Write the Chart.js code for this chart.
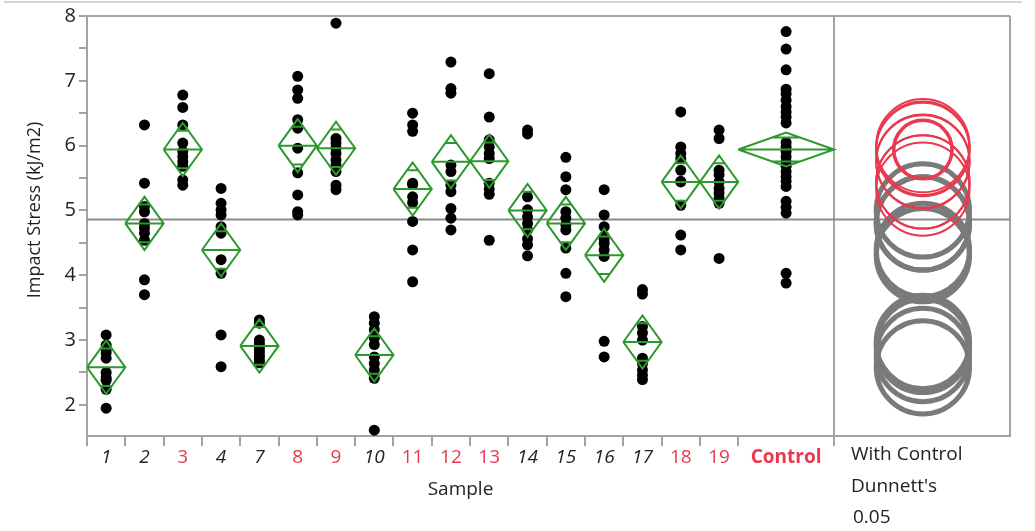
<!DOCTYPE html>
<html>
<head>
<meta charset="utf-8">
<script src="https://cdn.jsdelivr.net/npm/chart.js@4.4.0/dist/chart.umd.min.js"></script>
<style>
  html, body { margin: 0; padding: 0; background: #fff; }
  #wrap { position: relative; width: 1035px; height: 531px; }
  #topline { position: absolute; left: 4px; top: 1px; width: 1018px; height: 2px; background: #d6d6d6; }
</style>
</head>
<body>
<div id="wrap">
  <div id="topline"></div>
  <canvas id="c" width="1035" height="531"></canvas>
</div>
<script>
// groups on the x axis
const samples = ['1', '2', '3', '4', '7', '8', '9', '10', '11', '12', '13', '14', '15', '16', '17', '18', '19', 'Control'];

// raw impact stress values per sample (kJ/m2)
const s1  = [3.08, 2.92, 2.85, 2.80, 2.72, 2.50, 2.42, 2.38, 2.24, 1.95];
const s2  = [6.32, 5.42, 5.06, 4.98, 4.80, 4.73, 4.65, 4.54, 3.93, 3.70];
const s3  = [6.78, 6.59, 6.32, 6.04, 5.91, 5.83, 5.75, 5.68, 5.47, 5.39];
const s4  = [5.34, 5.11, 5.01, 4.93, 4.75, 4.65, 4.24, 4.03, 3.08, 2.59];
const s7  = [3.31, 3.26, 3.00, 2.95, 2.90, 2.85, 2.80, 2.75, 2.70, 2.65];
const s8  = [7.07, 6.86, 6.73, 6.40, 6.27, 5.96, 5.58, 5.24, 4.98, 4.93];
const s9  = [7.89, 6.11, 6.04, 5.96, 5.88, 5.78, 5.70, 5.60, 5.39, 5.32];
const s10 = [3.36, 3.26, 3.16, 3.03, 2.93, 2.74, 2.64, 2.54, 2.41, 1.61];
const s11 = [6.50, 6.32, 6.22, 5.42, 5.40, 5.21, 5.12, 4.83, 4.39, 3.90];
const s12 = [7.29, 6.88, 6.81, 5.70, 5.60, 5.39, 5.29, 5.03, 4.88, 4.70];
const s13 = [7.11, 6.44, 6.09, 5.98, 5.88, 5.80, 5.42, 5.33, 5.25, 4.54];
const s14 = [6.24, 6.18, 5.21, 5.01, 4.90, 4.80, 4.70, 4.56, 4.47, 4.30];
const s15 = [5.82, 5.52, 5.32, 4.98, 4.88, 4.78, 4.70, 4.42, 4.03, 3.67];
const s16 = [5.32, 4.93, 4.75, 4.60, 4.55, 4.49, 4.39, 4.29, 2.98, 2.74];
const s17 = [3.78, 3.71, 3.21, 3.11, 3.00, 2.72, 2.64, 2.54, 2.46, 2.39];
const s18 = [6.52, 5.98, 5.88, 5.80, 5.62, 5.45, 5.44, 5.08, 4.62, 4.39];
const s19 = [6.24, 6.11, 5.62, 5.55, 5.44, 5.34, 5.27, 5.19, 5.11, 4.26];
const sControl = [7.76, 7.49, 7.17, 6.87, 6.80, 6.70, 6.60, 6.52, 6.44, 6.35, 6.05, 5.98, 5.91,
                  5.83, 5.75, 5.68, 5.60, 5.52, 5.45, 5.37, 5.14, 5.05, 4.96, 4.03, 3.88];
const values = [s1, s2, s3, s4, s7, s8, s9, s10, s11, s12, s13, s14, s15, s16, s17, s18, s19, sControl];

// means diamonds (group mean and 95% CI half height)
const means  = [2.58, 4.80, 5.94, 4.39, 2.91, 6.00, 5.96, 2.77, 5.33, 5.75, 5.76, 5.00, 4.80, 4.31, 2.97, 5.44, 5.44, 5.94];
const ciHalf = [0.41, 0.41, 0.41, 0.41, 0.41, 0.41, 0.41, 0.41, 0.41, 0.41, 0.41, 0.41, 0.41, 0.41, 0.41, 0.41, 0.41, 0.26];
// Dunnett's comparison circles (radius in y units); 1 = differs from Control
const circleRadius = [0.72, 0.72, 0.72, 0.72, 0.72, 0.72, 0.72, 0.72, 0.72, 0.72, 0.72, 0.72, 0.72, 0.72, 0.72, 0.72, 0.72, 0.45];
const differs = [1, 1, 0, 1, 1, 0, 0, 1, 0, 0, 0, 1, 1, 1, 1, 0, 0, 0];
const grandMean = 4.86;
const yTicks = [2, 2.5, 3, 3.5, 4, 4.5, 5, 5.5, 6, 6.5, 7, 7.5, 8];

const RED = '#e8394e', GRAY = '#7a7a7a', GREEN = '#2c992c', AXIS = '#a3a3a3', TXT = '#222';
const FONT = "'Open Sans', sans-serif";
Chart.defaults.font.family = FONT;

// x axis is proportional to group size
const edges = [0];
values.forEach((v, i) => edges.push(edges[i] + v.length));
const total = edges[edges.length - 1];
const centers = samples.map((s, i) => (edges[i] + edges[i + 1]) / 2);
const panelW = total * 176 / 747;
const xMax = total + panelW;
const circleX = total + panelW * 0.505;
const ctrl = samples.length - 1;

const pts = [];
values.forEach((v, i) => v.forEach(y => pts.push({ x: centers[i], y })));

const dia = [];
samples.forEach((s, i) => {
  const L = edges[i], R = edges[i + 1], C = centers[i], m = means[i], h = ciHalf[i];
  const d = h / Math.SQRT2, w = (R - L) / 2 * (1 - 1 / Math.SQRT2);
  dia.push({ x: L, y: m }, { x: C, y: m + h }, { x: R, y: m }, { x: C, y: m - h }, { x: L, y: m }, { x: L, y: null });
  dia.push({ x: L, y: m }, { x: R, y: m }, { x: R, y: null });
  dia.push({ x: C - w, y: m + d }, { x: C + w, y: m + d }, { x: C, y: null });
  dia.push({ x: C - w, y: m - d }, { x: C + w, y: m - d }, { x: C, y: null });
});

const grayCircles = [], redCircles = [];
samples.forEach((s, i) => {
  const p = { x: circleX, y: means[i], r: circleRadius[i], ctrl: i === ctrl };
  (differs[i] ? grayCircles : redCircles).push(p);
});
redCircles.sort((a, b) => a.ctrl - b.ctrl);

function radiusPx(c) {
  if (!c.raw) return 0;
  const y = c.chart.scales.y;
  return Math.abs(y.getPixelForValue(2) - y.getPixelForValue(2 + c.raw.r));
}

const frame = {
  id: 'frame',
  beforeDatasetsDraw(chart) {
    const { ctx, chartArea: a, scales } = chart;
    const xd = scales.x.getPixelForValue(total);
    ctx.save();
    ctx.strokeStyle = AXIS;
    ctx.lineWidth = 2;
    ctx.beginPath();
    ctx.moveTo(a.left, a.top); ctx.lineTo(a.right, a.top);
    ctx.moveTo(a.right, a.top); ctx.lineTo(a.right, a.bottom);
    ctx.moveTo(xd, a.top); ctx.lineTo(xd, a.bottom);
    ctx.stroke();
    ctx.restore();
  },
  afterDraw(chart) {
    const { ctx, chartArea: a, scales } = chart;
    const xd = scales.x.getPixelForValue(total);
    const x0 = xd + 17;
    ctx.save();
    ctx.fillStyle = TXT;
    ctx.font = '19px ' + FONT;
    ctx.textBaseline = 'middle';
    ctx.fillText('With Control', x0, a.bottom + 19);
    ctx.fillText("Dunnett's", x0, a.bottom + 51);
    ctx.fillText('0.05', x0 + 2, a.bottom + 82);
    // axis titles
    ctx.textAlign = 'center';
    ctx.fillText('Sample', (a.left + xd) / 2, a.bottom + 54);
    ctx.translate(35, (a.top + a.bottom) / 2 - 16);
    ctx.rotate(-Math.PI / 2);
    ctx.font = '18px ' + FONT;
    ctx.fillText('Impact Stress (kJ/m2)', 0, 0);
    ctx.restore();
  }
};

new Chart(document.getElementById('c'), {
  data: {
    datasets: [
      { type: 'line', data: dia, order: 0, borderColor: GREEN, borderWidth: 2, pointRadius: 0,
        spanGaps: false, tension: 0, fill: false },
      { type: 'scatter', data: pts, order: 1, pointRadius: 5.5, pointBackgroundColor: '#000',
        pointBorderWidth: 0 },
      { type: 'scatter', data: redCircles, order: 2, pointRadius: radiusPx,
        pointBackgroundColor: 'rgba(0,0,0,0)', pointBorderColor: RED,
        pointBorderWidth: c => (c.raw && c.raw.ctrl ? 3.5 : 2) },
      { type: 'scatter', data: grayCircles, order: 3, pointRadius: radiusPx,
        pointBackgroundColor: 'rgba(0,0,0,0)', pointBorderColor: GRAY, pointBorderWidth: 5 },
      { type: 'line', data: [{ x: 0, y: grandMean }, { x: xMax, y: grandMean }], order: 4,
        borderColor: '#8a8a8a', borderWidth: 2, pointRadius: 0 }
    ]
  },
  options: {
    responsive: false,
    animation: false,
    events: [],
    layout: { padding: { top: 16, right: 25, left: 0, bottom: 25 } },
    plugins: { legend: { display: false }, tooltip: { enabled: false } },
    scales: {
      y: {
        type: 'linear', position: 'left', min: 1.52, max: 8,
        afterBuildTicks: s => { s.ticks = yTicks.map(v => ({ value: v })); },
        afterFit: s => { s.width = 87; },
        ticks: { color: TXT, font: { size: 20 }, padding: 3,
          callback: v => (Number.isInteger(v) ? String(v) : '') },
        grid: { drawOnChartArea: false, drawTicks: true, tickLength: 8, color: AXIS, lineWidth: 2 },
        border: { display: true, color: AXIS, width: 2 }
      },
      x: {
        type: 'linear', position: 'bottom', min: 0, max: xMax,
        afterBuildTicks: s => { s.ticks = edges.map(v => ({ value: v })); },
        afterFit: s => { s.height = 10; },
        ticks: { display: false },
        grid: { drawOnChartArea: false, drawTicks: true, tickLength: 10, color: AXIS, lineWidth: 2 },
        border: { display: true, color: AXIS, width: 2 }
      },
      xl: {
        type: 'linear', position: 'bottom', min: 0, max: xMax,
        afterBuildTicks: s => { s.ticks = centers.map(v => ({ value: v })); },
        afterFit: s => { s.height = 60; },
        grid: { display: false, drawTicks: false },
        border: { display: false },
        ticks: {
          autoSkip: false, maxRotation: 0, padding: 0,
          callback: (v, i) => samples[i],
          color: c => (differs[c.index] ? TXT : RED),
          font: c => ({ size: 19, style: differs[c.index] ? 'italic' : 'normal',
            weight: c.index === ctrl ? 'bold' : 'normal' })
        }
      }
    }
  },
  plugins: [frame]
});
</script>
</body>
</html>
